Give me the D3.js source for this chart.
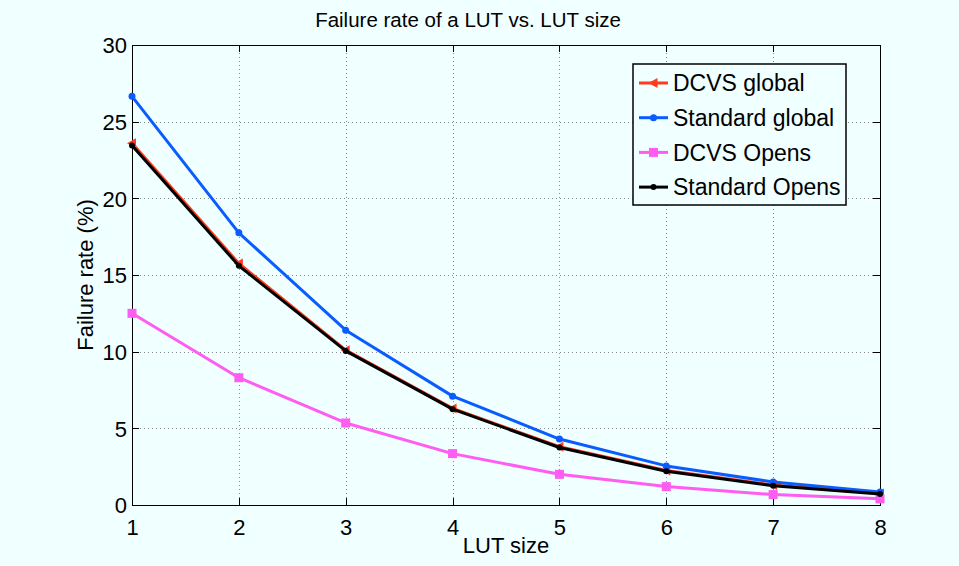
<!DOCTYPE html>
<html>
<head>
  <script src="https://d3js.org/d3.v7.min.js"></script>
  <style>
    body { margin: 0; background: #f0ffff; }
    svg text { font-family: "Liberation Sans", Arial, sans-serif; fill: #000; }
    .axis text { font-size: 22px; }
    .axis path, .axis line { stroke: #000; shape-rendering: crispEdges; }
    .grid line { stroke: #8a8a8a; stroke-dasharray: 1,3; shape-rendering: crispEdges; }
  </style>
</head>
<body>
  <svg class="chart"></svg>
  <script>
    // data
    var lutSizes = [1, 2, 3, 4, 5, 6, 7, 8];
    var dcvsGlobal = [23.6, 15.75, 10.1, 6.3, 3.8, 2.25, 1.3, 0.75];
    var standardGlobal = [26.65, 17.75, 11.4, 7.1, 4.3, 2.55, 1.5, 0.85];
    var dcvsOpens = [12.5, 8.3, 5.35, 3.35, 2.0, 1.2, 0.68, 0.4];
    var standardOpens = [23.45, 15.6, 10.05, 6.25, 3.75, 2.2, 1.25, 0.72];
    var yTicks = [0, 5, 10, 15, 20, 25, 30];

    var series = [
      { name: 'DCVS global', values: dcvsGlobal, color: '#ff3b1f', marker: 'triangle' },
      { name: 'Standard global', values: standardGlobal, color: '#0a5cff', marker: 'dot' },
      { name: 'DCVS Opens', values: dcvsOpens, color: '#ff5cf2', marker: 'square' },
      { name: 'Standard Opens', values: standardOpens, color: '#000000', marker: 'small' }
    ];

    var W = 959, H = 566;
    var margin = { top: 45, right: 79, bottom: 61, left: 132 };
    var width = W - margin.left - margin.right;
    var height = H - margin.top - margin.bottom;

    var svg = d3.select('.chart').attr('width', W).attr('height', H);
    svg.append('rect').attr('width', W).attr('height', H).attr('fill', '#f0ffff');

    var chart = svg.append('g')
      .attr('transform', 'translate(' + margin.left + ',' + margin.top + ')');

    var x = d3.scaleLinear().domain([1, 8]).range([0, width]);
    var y = d3.scaleLinear().domain([0, 30]).range([height, 0]);

    // grid
    chart.append('g').attr('class', 'grid')
      .selectAll('line.v').data(lutSizes.slice(1, -1)).enter().append('line')
      .attr('x1', function (d) { return Math.round(x(d)) + 0.5; })
      .attr('x2', function (d) { return Math.round(x(d)) + 0.5; })
      .attr('y1', 0).attr('y2', height);
    chart.append('g').attr('class', 'grid')
      .selectAll('line.h').data(yTicks.slice(1, -1)).enter().append('line')
      .attr('y1', function (d) { return Math.round(y(d)) + 0.5; })
      .attr('y2', function (d) { return Math.round(y(d)) + 0.5; })
      .attr('x1', 0).attr('x2', width);

    // axes (box with inner ticks)
    var xAxis = d3.axisBottom(x).tickValues(lutSizes).tickSize(-7).tickPadding(14).tickFormat(d3.format('d'));
    var yAxis = d3.axisLeft(y).tickValues(yTicks).tickSize(-7).tickPadding(5);
    chart.append('g').attr('class', 'axis')
      .attr('transform', 'translate(0,' + height + ')').call(xAxis);
    chart.append('g').attr('class', 'axis').call(yAxis)
      .selectAll('text').attr('dy', '0.36em');
    chart.append('g').attr('class', 'axis')
      .call(d3.axisTop(x).tickValues(lutSizes).tickSize(-7).tickFormat(''));
    chart.append('g').attr('class', 'axis')
      .attr('transform', 'translate(' + width + ',0)')
      .call(d3.axisRight(y).tickValues(yTicks).tickSize(-7).tickFormat(''));
    chart.selectAll('.axis path').attr('stroke-width', 1.5);

    // lines
    var line = d3.line()
      .x(function (d, i) { return x(lutSizes[i]); })
      .y(function (d) { return y(d); });

    function drawMarker(g, type, color) {
      if (type === 'triangle') {
        g.append('path').attr('d', 'M-5,0L4,-5L4,5Z').attr('fill', color);
      } else if (type === 'dot') {
        g.append('circle').attr('r', 3.5).attr('fill', color);
      } else if (type === 'square') {
        g.append('rect').attr('x', -4.5).attr('y', -4.5).attr('width', 9).attr('height', 9).attr('fill', color);
      } else {
        g.append('circle').attr('r', 3).attr('fill', color);
      }
    }

    series.forEach(function (s) {
      chart.append('path')
        .attr('d', line(s.values))
        .attr('fill', 'none')
        .attr('stroke', s.color)
        .attr('stroke-width', 3)
        .attr('stroke-linejoin', 'round');
      s.values.forEach(function (v, i) {
        var g = chart.append('g')
          .attr('transform', 'translate(' + x(lutSizes[i]) + ',' + y(v) + ')');
        drawMarker(g, s.marker, s.color);
      });
    });

    // title and axis labels
    svg.append('text')
      .attr('x', 468).attr('y', 27)
      .attr('text-anchor', 'middle')
      .style('font-size', '20.5px')
      .text('Failure rate of a LUT vs. LUT size');
    svg.append('text')
      .attr('x', 506).attr('y', 553)
      .attr('text-anchor', 'middle')
      .style('font-size', '22px')
      .text('LUT size');
    svg.append('text')
      .attr('transform', 'translate(93,' + (margin.top + height / 2) + ') rotate(-90)')
      .attr('text-anchor', 'middle')
      .style('font-size', '22px')
      .text('Failure rate (%)');

    // legend
    var legend = svg.append('g').attr('transform', 'translate(633,64)');
    legend.append('rect')
      .attr('width', 213).attr('height', 141)
      .attr('fill', '#f0ffff').attr('stroke', '#000').attr('stroke-width', 1.5);
    series.forEach(function (s, i) {
      var ly = 19 + i * 34.7;
      legend.append('line')
        .attr('x1', 6).attr('x2', 35).attr('y1', ly).attr('y2', ly)
        .attr('stroke', s.color).attr('stroke-width', 3);
      var g = legend.append('g').attr('transform', 'translate(20.5,' + ly + ')');
      drawMarker(g, s.marker, s.color);
      legend.append('text')
        .attr('x', 40).attr('y', ly).attr('dy', '0.36em')
        .style('font-size', '23px')
        .text(s.name);
    });
  </script>
</body>
</html>
